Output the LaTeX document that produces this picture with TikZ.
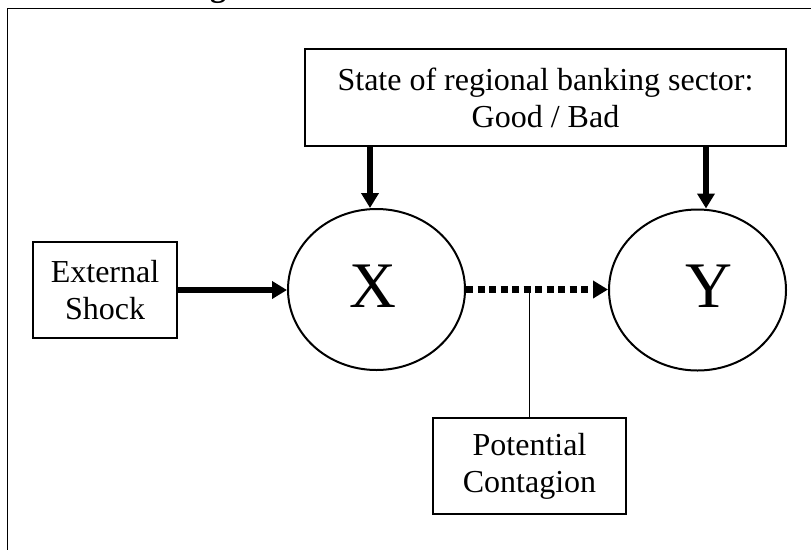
\documentclass[tikz,border=0pt]{standalone}
\usepackage{fontspec}
\setmainfont{Liberation Serif}
\usetikzlibrary{arrows.meta,shapes.geometric}
\begin{document}
\begin{tikzpicture}[x=1pt,y=-1pt,
  txt/.style={font=\fontsize{32}{37}\selectfont, align=center, inner sep=0pt},
  boxnode/.style={draw, line width=1.3pt, rectangle, txt},
  circnode/.style={draw, line width=2pt, ellipse, minimum width=177pt, minimum height=161pt, inner sep=0pt},
  bigtxt/.style={font=\fontsize{65}{65}\selectfont, inner sep=0pt},
  thickarr/.style={line width=5.5pt, -{Triangle[length=15pt,width=17pt]}},
  dotarr/.style={line width=6.5pt, dash pattern=on 7pt off 4.5pt, -{Triangle[length=15pt,width=17pt]}},
  thinline/.style={line width=1.2pt}
]
\useasboundingbox (0,0) rectangle (811,550);
% frame and cut-off title fragment
\draw[line width=1.5pt] (811,8.5) -- (7.5,8.5) -- (7.5,550);
\node[txt, anchor=base, font=\fontsize{32}{37}\selectfont\bfseries] (title) at (218,-4) {g};
% nodes
\node[boxnode, minimum width=481pt, minimum height=97pt] (bank) at (545.5,97.5) {State of regional banking sector:\\Good / Bad};
\node[boxnode, minimum width=144pt, minimum height=96pt] (ext) at (105,290) {External\\Shock};
\node[boxnode, minimum width=193pt, minimum height=96pt] (pot) at (529.5,466) {Potential\\Contagion};
\node[circnode] (X) at (376.5,289.5) {};
\node[circnode] (Y) at (697.5,290) {};
\node[bigtxt] (Xl) at (373,286.5) {X};
\node[bigtxt] (Yl) at (709,286.5) {Y};
% connectors
\draw[thickarr] ([xshift=-6.5pt]X.north |- bank.south) -- ([xshift=-6.5pt]X.north);
\draw[thickarr] ([xshift=8.5pt]Y.north |- bank.south) -- ([xshift=8.5pt]Y.north);
\draw[thickarr] (ext.east) -- (ext.east -| X.west);
\draw[dotarr] (X.east) -- (X.east -| Y.west);
\coordinate (m) at (pot.north |- X.east);
\draw[thinline] (pot.north) -- (m);
\end{tikzpicture}
\end{document}
